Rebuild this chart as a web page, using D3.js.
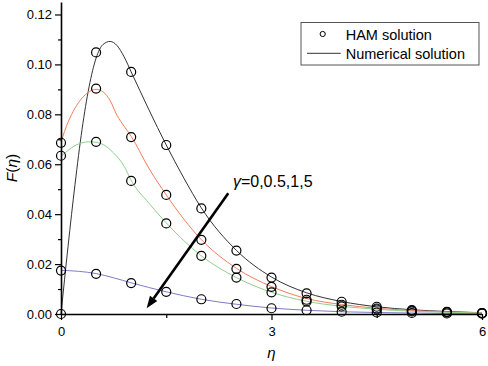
<!DOCTYPE html>
<html>
<head>
<meta charset="utf-8">
<script src="https://cdn.jsdelivr.net/npm/d3@7"></script>
<style>
  body { margin: 0; background: #fff; }
  svg { display: block; font-family: Arial, "Liberation Sans", sans-serif; }
</style>
</head>
<body>
<svg id="chart" width="488" height="366"></svg>
<script>
// numerical solution curves, one per gamma (eta grid differs a bit near the peaks)
const etaBlack = [0, 0.1, 0.2, 0.3, 0.4, 0.5, 0.6, 0.7, 0.8, 0.9, 1.0, 1.25, 1.5, 1.75, 2, 2.5, 3, 3.5, 4, 4.5, 5, 5.5, 6];
const numBlack = [0, 0.027, 0.052, 0.074, 0.091, 0.1025, 0.1080, 0.1092, 0.1075, 0.1030, 0.0970, 0.0820, 0.0677, 0.0545, 0.0425, 0.0255, 0.0148, 0.0085, 0.0050, 0.0029, 0.0017, 0.0010, 0.0005];

const etaRed = [0, 0.1, 0.2, 0.3, 0.4, 0.5, 0.6, 0.7, 0.8, 0.9, 1.0, 1.25, 1.5, 2, 2.5, 3, 3.5, 4, 4.5, 5, 5.5, 6];
const numRed = [0.069, 0.0768, 0.0825, 0.0865, 0.0890, 0.0900, 0.0890, 0.0855, 0.0795, 0.0752, 0.0712, 0.0585, 0.0477, 0.0298, 0.0183, 0.0110, 0.0062, 0.0038, 0.0023, 0.0014, 0.0008, 0.0005];

const etaGreen = [0, 0.1, 0.2, 0.3, 0.4, 0.5, 0.6, 0.75, 0.9, 1.0, 1.25, 1.5, 2, 2.5, 3, 3.5, 4, 4.5, 5, 5.5, 6];
const numGreen = [0.0632, 0.0655, 0.0675, 0.0686, 0.0690, 0.0688, 0.0679, 0.0645, 0.0592, 0.0535, 0.0445, 0.0365, 0.0233, 0.0146, 0.0087, 0.0051, 0.0031, 0.0019, 0.0011, 0.0007, 0.0004];

const etaBlue = [0, 0.25, 0.5, 0.75, 1, 1.5, 2, 2.5, 3, 3.5, 4, 4.5, 5, 5.5, 6];
const numBlue = [0.0175, 0.0171, 0.0162, 0.0145, 0.0125, 0.0089, 0.0059, 0.0039, 0.0024, 0.0015, 0.0009, 0.0006, 0.0004, 0.0002, 0.0001];

// HAM solution points
const etaHam = [0, 0.5, 1, 1.5, 2, 2.5, 3, 3.5, 4, 4.5, 5, 5.5, 6];
const hamBlack = [0, 0.1048, 0.0970, 0.0677, 0.0423, 0.0254, 0.0146, 0.0083, 0.0049, 0.0029, 0.0016, 0.0009, 0.0004];
const hamRed   = [0.0686, 0.0903, 0.0709, 0.0477, 0.0297, 0.0181, 0.0109, 0.0057, 0.0037, 0.0022, 0.0013, 0.0008, 0.0004];
const hamGreen = [0.0634, 0.0690, 0.0533, 0.0363, 0.0233, 0.0146, 0.0087, 0.0050, 0.0030, 0.0018, 0.0010, 0.0006, 0.0003];
const hamBlue  = [0.0174, 0.0161, 0.0124, 0.0089, 0.0059, 0.0040, 0.0023, 0.0015, 0.0009, 0.0006, 0.0004, 0.0002, 0.0001];

const xTicks = [0, 3, 6];
const xMinor = [1.5, 4.5];
const yTicks = [0, 0.02, 0.04, 0.06, 0.08, 0.10, 0.12];
const yMinor = [0.01, 0.03, 0.05, 0.07, 0.09, 0.11];

// arrow annotation (data units): tail -> head
const arrowFrom = [2.384, 0.0484];
const arrowTo = [1.221, 0.0023];
const gammaLabelPos = [2.45, 0.051];

const svg = d3.select("#chart");
const plotLeft = 61, plotRight = 482, plotTop = 2, plotBottom = 314;

const x = d3.scaleLinear().domain([0, 6]).range([plotLeft, plotRight]);
const y = d3.scaleLinear().domain([0, 0.125]).range([plotBottom, plotTop]);

const series = [
  { eta: etaBlack, num: numBlack, ham: hamBlack, color: "#333333" },
  { eta: etaRed, num: numRed, ham: hamRed, color: "#f47c5e" },
  { eta: etaGreen, num: numGreen, ham: hamGreen, color: "#8fd08f" },
  { eta: etaBlue, num: numBlue, ham: hamBlue, color: "#7d7dc6" }
];

const line = d3.line()
  .x(d => x(d[0]))
  .y(d => y(d[1]))
  .curve(d3.curveMonotoneX);

// curves
svg.append("g").selectAll("path")
  .data(series)
  .enter()
  .append("path")
  .attr("d", s => line(s.eta.map((e, i) => [e, s.num[i]])))
  .attr("fill", "none")
  .attr("stroke", s => s.color)
  .attr("stroke-width", 1);

// axes
svg.append("g")
  .attr("transform", `translate(${plotLeft},0)`)
  .call(d3.axisLeft(y).tickValues(yTicks).tickFormat(d3.format(".2f")).tickSize(6).tickPadding(3).tickSizeOuter(0));
svg.append("g")
  .attr("transform", `translate(${plotLeft},0)`)
  .call(d3.axisLeft(y).tickValues(yMinor).tickFormat("").tickSize(3).tickSizeOuter(0))
  .select(".domain").remove();

svg.append("g")
  .attr("transform", `translate(0,${plotBottom})`)
  .call(d3.axisBottom(x).tickValues(xTicks).tickFormat(d3.format("d")).tickSize(6).tickPadding(7).tickSizeOuter(0));
svg.append("g")
  .attr("transform", `translate(0,${plotBottom})`)
  .call(d3.axisBottom(x).tickValues(xMinor).tickFormat("").tickSize(4).tickSizeOuter(0))
  .select(".domain").remove();

svg.selectAll(".domain").attr("stroke", "#000").attr("stroke-width", 1.6);
svg.selectAll(".tick line").attr("stroke", "#000").attr("stroke-width", 1.2);
svg.selectAll(".tick text").attr("fill", "#000").style("font-size", "13px")
  .style("font-family", "Arial, 'Liberation Sans', sans-serif");

// HAM markers
series.forEach(s => {
  svg.append("g").selectAll("circle")
    .data(etaHam.map((e, i) => [e, s.ham[i]]))
    .enter()
    .append("circle")
    .attr("cx", d => x(d[0]))
    .attr("cy", d => y(d[1]))
    .attr("r", 4.5)
    .attr("fill", "none")
    .attr("stroke", "#000")
    .attr("stroke-width", 1.2);
});

// arrow
const ax1 = x(arrowFrom[0]), ay1 = y(arrowFrom[1]);
const ax2 = x(arrowTo[0]), ay2 = y(arrowTo[1]);
const ang = Math.atan2(ay2 - ay1, ax2 - ax1);
const headLen = 12, headW = 4.5;
const bx = ax2 - headLen * Math.cos(ang), by = ay2 - headLen * Math.sin(ang);
svg.append("line")
  .attr("x1", ax1).attr("y1", ay1)
  .attr("x2", bx).attr("y2", by)
  .attr("stroke", "#000")
  .attr("stroke-width", 2.6);
svg.append("path")
  .attr("d", `M${ax2},${ay2}L${bx + headW * Math.sin(ang)},${by - headW * Math.cos(ang)}L${bx - headW * Math.sin(ang)},${by + headW * Math.cos(ang)}Z`)
  .attr("fill", "#000");

// gamma label
const gl = svg.append("text")
  .attr("x", x(gammaLabelPos[0]))
  .attr("y", y(gammaLabelPos[1]))
  .style("font-size", "16px")
  .attr("fill", "#000");
gl.append("tspan").style("font-style", "italic").text("γ");
gl.append("tspan").text("=0,0.5,1,5");

// axis titles
const yt = svg.append("text")
  .attr("transform", "translate(17,168) rotate(-90)")
  .attr("text-anchor", "middle")
  .style("font-size", "15.5px");
yt.append("tspan").style("font-style", "italic").text("F");
yt.append("tspan").text("(");
yt.append("tspan").style("font-style", "italic").text("η");
yt.append("tspan").text(")");

svg.append("text")
  .attr("x", x(3))
  .attr("y", 358)
  .attr("text-anchor", "middle")
  .style("font-size", "15px")
  .style("font-style", "italic")
  .text("η");

// legend
const lg = svg.append("g");
lg.append("rect")
  .attr("x", 301).attr("y", 22.5)
  .attr("width", 178).attr("height", 42.5)
  .attr("fill", "#fff")
  .attr("stroke", "#555")
  .attr("stroke-width", 1);
lg.append("circle")
  .attr("cx", 322.7).attr("cy", 34)
  .attr("r", 2.6)
  .attr("fill", "none")
  .attr("stroke", "#000")
  .attr("stroke-width", 1);
lg.append("line")
  .attr("x1", 307).attr("x2", 340.7)
  .attr("y1", 53.3).attr("y2", 53.3)
  .attr("stroke", "#333")
  .attr("stroke-width", 1);
lg.append("text").attr("x", 345.7).attr("y", 39.5).style("font-size", "14.5px").text("HAM solution");
lg.append("text").attr("x", 345.7).attr("y", 58.5).style("font-size", "14.5px").text("Numerical solution");
</script>
</body>
</html>
